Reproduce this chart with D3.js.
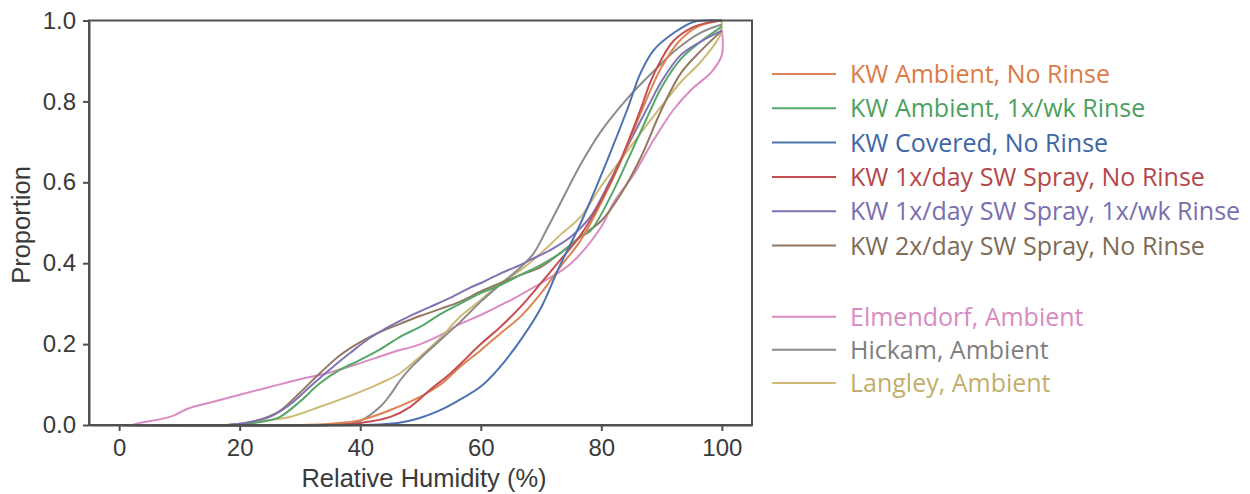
<!DOCTYPE html>
<html>
<head>
<meta charset="utf-8">
<script src="https://cdn.jsdelivr.net/npm/d3@7"></script>
<style>
  html, body { margin: 0; padding: 0; background: #fff; }
  svg { display: block; }
</style>
</head>
<body>
<div id="chart"></div>
<script>
// cumulative proportion vs relative humidity, one array per exposure
const kwAmbientNoRinse = [[0,0],[30,0],[35,0.003],[40,0.012],[45,0.037],[50,0.07],[53.3,0.1],[56.6,0.144],[60,0.185],[63.3,0.227],[66.6,0.268],[70,0.326],[73.2,0.391],[76.6,0.457],[80,0.55],[83.2,0.65],[86.5,0.77],[90,0.885],[93,0.95],[96,0.985],[100,1]];
const kwAmbientRinse = [[0,0],[18,0],[22,0.004],[25,0.012],[26.7,0.02],[30,0.058],[33.3,0.103],[36.6,0.136],[40,0.161],[43.3,0.187],[46.6,0.218],[50,0.243],[53.3,0.274],[56.6,0.3],[60,0.326],[63.3,0.346],[66.6,0.371],[70,0.396],[73.2,0.425],[76.6,0.466],[78.2,0.48],[81.5,0.564],[84.9,0.672],[88.2,0.78],[90,0.835],[93.2,0.905],[96.5,0.948],[100,0.985]];
const kwCoveredNoRinse = [[0,0],[40,0],[45,0.003],[48,0.01],[50,0.018],[53,0.035],[56,0.058],[60,0.095],[63,0.14],[66.6,0.21],[70,0.29],[73,0.39],[76.6,0.5],[81,0.655],[84.3,0.78],[86.5,0.87],[88.7,0.927],[92,0.969],[95.4,0.997],[100,1]];
const kwSpray1NoRinse = [[0,0],[35,0],[40,0.005],[45,0.02],[48.3,0.045],[51.6,0.087],[55,0.128],[60,0.2],[63.3,0.243],[66.6,0.292],[70,0.351],[73.2,0.408],[76.6,0.47],[80,0.556],[83.2,0.655],[86.5,0.78],[88.2,0.85],[90,0.905],[92,0.95],[95,0.982],[98,0.996],[100,1]];
const kwSpray1Rinse = [[0,0],[18,0],[20,0.003],[22,0.008],[25,0.02],[28.3,0.05],[31.7,0.095],[35,0.138],[38.3,0.178],[41.6,0.215],[45,0.245],[48.3,0.27],[51.6,0.292],[55,0.315],[58,0.338],[60,0.351],[63.3,0.375],[66.6,0.396],[68.2,0.408],[71.6,0.433],[75,0.466],[78.2,0.515],[81.5,0.605],[84.9,0.705],[88.2,0.8],[90,0.85],[93.2,0.915],[96.5,0.948],[100,0.975]];
const kwSpray2NoRinse = [[0,0],[18,0],[20,0.003],[22,0.008],[25,0.022],[26.7,0.035],[30,0.08],[33.3,0.128],[36.6,0.172],[40,0.205],[43.3,0.23],[46.6,0.25],[50,0.27],[53.3,0.287],[56.6,0.305],[60,0.33],[63.3,0.351],[66.6,0.371],[70,0.391],[73.2,0.425],[76.6,0.466],[80,0.505],[83.2,0.57],[86.5,0.66],[90,0.78],[93.2,0.87],[96.5,0.925],[100,0.975]];
const elmendorf = [[0,0],[2,0],[3.4,0.005],[8.4,0.02],[11.7,0.042],[15,0.055],[20,0.075],[25,0.094],[30,0.113],[35,0.13],[40,0.153],[45,0.178],[50,0.2],[53.3,0.222],[56.6,0.25],[60,0.272],[65,0.309],[70,0.351],[75,0.4],[80,0.49],[82,0.549],[85.4,0.62],[88.7,0.705],[92,0.78],[95,0.83],[98.3,0.873],[100,0.915],[100,0.977]];
const hickam = [[0,0],[35,0],[38,0.003],[40,0.01],[43.3,0.045],[45,0.075],[46.6,0.11],[48.3,0.14],[50,0.165],[53.3,0.21],[56.6,0.255],[60,0.305],[63.3,0.348],[66.6,0.39],[68.8,0.425],[71,0.485],[73.2,0.548],[76.6,0.645],[80,0.727],[84.3,0.807],[88.7,0.875],[92.6,0.93],[96.5,0.97],[100,0.99]];
const langley = [[0,0],[15,0],[20,0.002],[25,0.012],[28.3,0.02],[33.3,0.045],[40,0.082],[43.3,0.103],[46.6,0.128],[50,0.17],[53.3,0.215],[56.6,0.268],[60,0.309],[63.3,0.351],[66.6,0.383],[70,0.425],[73.2,0.47],[76.6,0.515],[79.9,0.589],[83.2,0.655],[86.5,0.721],[89.9,0.787],[93.2,0.848],[96.5,0.898],[99.7,0.964],[100,0.997]];

const seriesNames = [
  'KW Ambient, No Rinse',
  'KW Ambient, 1x/wk Rinse',
  'KW Covered, No Rinse',
  'KW 1x/day SW Spray, No Rinse',
  'KW 1x/day SW Spray, 1x/wk Rinse',
  'KW 2x/day SW Spray, No Rinse',
  'Elmendorf, Ambient',
  'Hickam, Ambient',
  'Langley, Ambient'
];
const seriesValues = [kwAmbientNoRinse, kwAmbientRinse, kwCoveredNoRinse, kwSpray1NoRinse,
  kwSpray1Rinse, kwSpray2NoRinse, elmendorf, hickam, langley];
const seriesColors = ['#DD8452', '#55A868', '#4C72B0', '#C44E52', '#8172B3', '#937860',
  '#DA8BC3', '#8C8C8C', '#CCB974'];
const legendText = ['#DD7A45', '#4E9F5E', '#3E66A6', '#B5474B', '#7A6EB0', '#7E6B55',
  '#D98AC2', '#7F7F7F', '#C2AE6A'];

const xTicks = [0, 20, 40, 60, 80, 100];
const yTicks = [0, 0.2, 0.4, 0.6, 0.8, 1.0];
// draw order: back to front
const drawOrder = [6, 8, 7, 5, 1, 4, 0, 3, 2];

const width = 1250;
const height = 494;
const plot = { left: 89, right: 752, top: 20.5, bottom: 425 };

const svg = d3.select('#chart').append('svg')
  .attr('width', width)
  .attr('height', height);

const x = d3.scaleLinear().domain([-5, 105]).range([plot.left, plot.right]);
const y = d3.scaleLinear().domain([0, 1]).range([plot.bottom, plot.top]);

const axisColor = '#505050';
const labelColor = '#3a3a3a';
const font = 'Liberation Sans, Arial, sans-serif';

// curves
const line = d3.line()
  .x(d => x(d[0]))
  .y(d => y(d[1]))
  .curve(d3.curveCatmullRom.alpha(0.5));

svg.append('g')
  .selectAll('path')
  .data(drawOrder)
  .join('path')
  .attr('fill', 'none')
  .attr('stroke', i => seriesColors[i])
  .attr('stroke-width', 2)
  .attr('stroke-linejoin', 'round')
  .attr('d', i => line(seriesValues[i]));

// frame
svg.append('rect')
  .attr('x', plot.left)
  .attr('y', plot.top)
  .attr('width', plot.right - plot.left)
  .attr('height', plot.bottom - plot.top)
  .attr('fill', 'none')
  .attr('stroke', axisColor)
  .attr('stroke-width', 2);

const yAxis = svg.append('g')
  .attr('transform', `translate(${plot.left},0)`)
  .call(d3.axisLeft(y).tickValues(yTicks).tickFormat(d3.format('.1f')).tickSize(6).tickSizeOuter(0).tickPadding(7));

const xAxis = svg.append('g')
  .attr('transform', `translate(0,${plot.bottom})`)
  .call(d3.axisBottom(x).tickValues(xTicks).tickSize(6).tickSizeOuter(0).tickPadding(8));

[yAxis, xAxis].forEach(a => {
  a.select('.domain').attr('stroke', axisColor).attr('stroke-width', 2);
  a.selectAll('.tick line').attr('stroke', axisColor).attr('stroke-width', 2);
  a.selectAll('.tick text')
    .attr('fill', labelColor)
    .style('font-family', font)
    .style('font-size', '24px');
});

svg.append('text')
  .attr('x', 424)
  .attr('y', 487)
  .attr('text-anchor', 'middle')
  .attr('fill', labelColor)
  .style('font-family', font)
  .style('font-size', '25.5px')
  .text('Relative Humidity (%)');

svg.append('text')
  .attr('transform', 'translate(30,225) rotate(-90)')
  .attr('text-anchor', 'middle')
  .attr('fill', labelColor)
  .style('font-family', font)
  .style('font-size', '25.5px')
  .text('Proportion');

// legend
const legendRows = [74, 108.3, 142.6, 177, 211.3, 245.6, 316.7, 349.8, 383];
const legend = svg.append('g');
const item = legend.selectAll('g')
  .data(seriesNames)
  .join('g')
  .attr('transform', (d, i) => `translate(0,${legendRows[i]})`);

item.append('line')
  .attr('x1', 772)
  .attr('x2', 836)
  .attr('stroke', (d, i) => seriesColors[i])
  .attr('stroke-width', 2);

item.append('text')
  .attr('x', 850)
  .attr('y', 9)
  .attr('fill', (d, i) => legendText[i])
  .style('font-family', 'Open Sans, sans-serif')
  .style('font-size', '25px')
  .text(d => d);
</script>
</body>
</html>
